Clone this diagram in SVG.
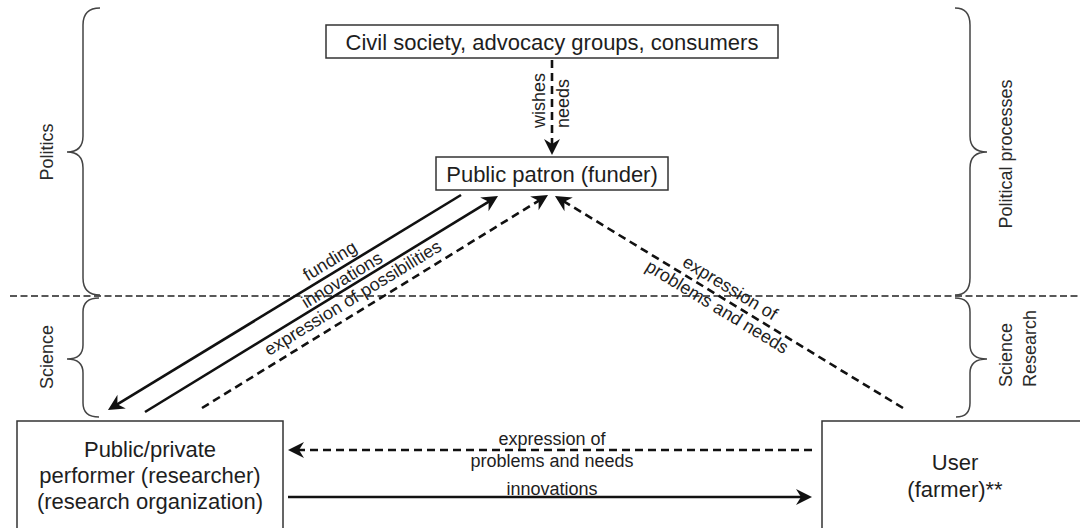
<svg xmlns="http://www.w3.org/2000/svg" width="1080" height="528" viewBox="0 0 1080 528">
  <style>
    text { font-family: "Liberation Sans", Arial, sans-serif; fill: #1e1e1e; }
    .box { fill: #fff; stroke: #333; stroke-width: 1.5; }
    .bt { font-size: 22px; text-anchor: middle; }
    .lbl { font-size: 18px; text-anchor: middle; }
    .side { font-size: 18px; fill: #2a2a2a; }
    .brace { fill: none; stroke: #444; stroke-width: 1.5; }
    .sep { fill: none; stroke: #222; stroke-width: 1.5; stroke-dasharray: 7 3.5; }
    .solid { fill: none; stroke: #111; stroke-width: 2.6; }
    .dash { fill: none; stroke: #111; stroke-width: 2.6; stroke-dasharray: 8 5; }
  </style>
  <defs>
    <marker id="ah" viewBox="-17 -9 18 18" refX="-6" refY="0" markerWidth="18" markerHeight="18" markerUnits="userSpaceOnUse" orient="auto">
      <path d="M0,0 L-16,-8 L-11,0 L-16,8 Z" fill="#111"/>
    </marker>
  </defs>

  <rect width="1080" height="528" fill="#fff"/>

  <!-- separator -->
  <line class="sep" x1="10" y1="296" x2="1080" y2="296"/>

  <!-- braces and side labels -->
  <g id="brace-politics">
    <path class="brace" d="M100,8 Q83,8 83,25 L83,136 Q83,152 67,152 Q83,152 83,168 L83,278 Q83,295 100,295"/>
    <text class="side" text-anchor="middle" transform="translate(53,152) rotate(-90)">Politics</text>
  </g>
  <g id="brace-science-left">
    <path class="brace" d="M99,298 Q83,298 83,312 L83,345 Q83,359 67,359 Q83,359 83,373 L83,403 Q83,417 99,417"/>
    <text class="side" text-anchor="middle" transform="translate(53,357) rotate(-90)">Science</text>
  </g>
  <g id="brace-political-processes">
    <path class="brace" d="M955,8 Q970,8 970,25 L970,136 Q970,152 987,152 Q970,152 970,168 L970,278 Q970,295 955,295"/>
    <text class="side" text-anchor="middle" transform="translate(1012,154) rotate(-90)">Political processes</text>
  </g>
  <g id="brace-science-research">
    <path class="brace" d="M955,298 Q970,298 970,312 L970,345 Q970,359 987,359 Q970,359 970,373 L970,403 Q970,417 956,417"/>
    <text class="side" text-anchor="start" transform="translate(1012,387) rotate(-90)">Science</text>
    <text class="side" text-anchor="start" transform="translate(1036,387) rotate(-90)">Research</text>
  </g>

  <!-- connectors -->
  <g id="connectors">
    <line class="dash" x1="552" y1="60" x2="552" y2="149" marker-end="url(#ah)"/>
    <line class="solid" x1="461" y1="195" x2="113.1" y2="406.9" marker-end="url(#ah)"/>
    <line class="solid" x1="145" y1="412" x2="492.9" y2="199.1" marker-end="url(#ah)"/>
    <line class="dash" x1="202" y1="408" x2="542.9" y2="198.1" marker-end="url(#ah)"/>
    <line class="dash" x1="903" y1="408" x2="560.1" y2="199.1" marker-end="url(#ah)"/>
    <line class="dash" x1="812" y1="450" x2="294" y2="450" marker-end="url(#ah)"/>
    <line class="solid" x1="288" y1="497" x2="806" y2="497" marker-end="url(#ah)"/>

    <text class="lbl" text-anchor="start" transform="translate(545,128) rotate(-90)" style="text-anchor:start">wishes</text>
    <text class="lbl" transform="translate(569,128) rotate(-90)" style="text-anchor:start">needs</text>

    <text class="lbl" transform="translate(333,266) rotate(-31.5)">funding</text>
    <text class="lbl" transform="translate(345,285) rotate(-31.5)">innovations</text>
    <text class="lbl" transform="translate(356,303) rotate(-31.5)">expression of possibilities</text>

    <text class="lbl" transform="translate(727,293) rotate(31.3)">expression of</text>
    <text class="lbl" transform="translate(714,312) rotate(31.3)">problems and needs</text>

    <text class="lbl" x="552" y="445">expression of</text>
    <text class="lbl" x="552" y="467">problems and needs</text>
    <text class="lbl" x="552" y="495">innovations</text>
  </g>

  <!-- nodes -->
  <g id="civil-society">
    <rect class="box" x="326" y="25" width="452" height="33"/>
    <text class="bt" x="552" y="50">Civil society, advocacy groups, consumers</text>
  </g>
  <g id="public-patron">
    <rect class="box" x="436" y="157" width="232" height="33"/>
    <text class="bt" x="552" y="182">Public patron (funder)</text>
  </g>
  <g id="performer">
    <rect class="box" x="17" y="421" width="266" height="120"/>
    <text class="bt" x="150" y="457">Public/private</text>
    <text class="bt" x="150" y="483">performer (researcher)</text>
    <text class="bt" x="150" y="509">(research organization)</text>
  </g>
  <g id="user">
    <rect class="box" x="822" y="421" width="270" height="120"/>
    <text class="bt" x="955" y="470">User</text>
    <text class="bt" x="955" y="497">(farmer)**</text>
  </g>
</svg>
